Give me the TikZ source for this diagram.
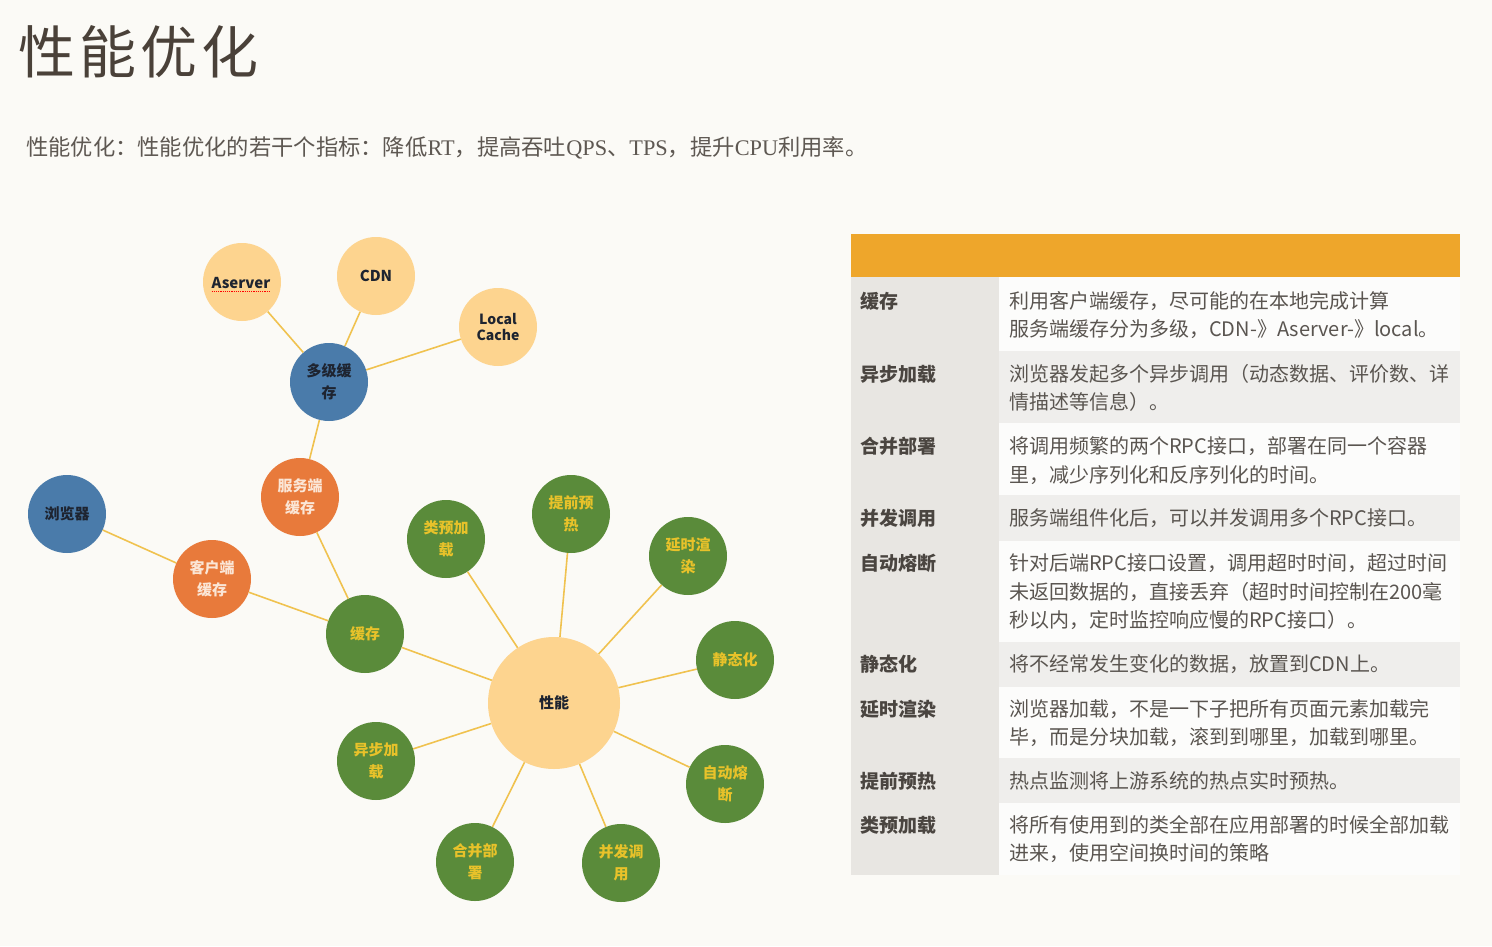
\documentclass[tikz,border=0pt]{standalone}
\usepackage{fontspec}
\setmainfont{Noto Sans CJK SC}
\newfontfamily\serifl{Liberation Serif}
\definecolor{bgc}{HTML}{FBFAF6}
\definecolor{titlec}{HTML}{4A4139}
\definecolor{subc}{HTML}{5E5852}
\definecolor{palec}{HTML}{FDD48F}
\definecolor{bluec}{HTML}{4A7BAA}
\definecolor{orgc}{HTML}{E87A3B}
\definecolor{grnc}{HTML}{5A8B3A}
\definecolor{grnt}{HTML}{E8C22A}
\definecolor{orgt}{HTML}{FBE6D6}
\definecolor{darkt}{HTML}{1E2430}
\definecolor{edgec}{HTML}{F0C24F}
\definecolor{hdrc}{HTML}{EEA62B}
\definecolor{leftc}{HTML}{E8E6E2}
\definecolor{rowa}{HTML}{FCFCFB}
\definecolor{rowb}{HTML}{EFEEEC}
\definecolor{labc}{HTML}{4A4540}
\definecolor{descc}{HTML}{5A5550}
\tikzset{
 edge/.style={draw=edgec, line width=1.6pt},
 bub/.style={circle, minimum size=78pt, inner sep=0pt, align=center, font=\fontsize{15}{22}\selectfont\bfseries},
 pale/.style={bub, fill=palec, text=darkt},
 blu/.style={bub, fill=bluec, text=darkt},
 org/.style={bub, fill=orgc, text=orgt},
 grn/.style={bub, fill=grnc, text=grnt},
 lab/.style={anchor=base west, inner sep=0pt, font=\fontsize{19}{19}\selectfont\bfseries, text=labc},
 desc/.style={anchor=base west, inner sep=0pt, font=\fontsize{20}{20}\selectfont, text=descc},
}
\begin{document}
\begin{tikzpicture}[x=1pt,y=-1pt]
\fill[bgc] (0,0) rectangle (1492,946);
\useasboundingbox (0,0) rectangle (1492,946);
% title
\node[anchor=west, inner sep=0pt, text=titlec, font=\fontsize{57}{60}\selectfont] (title) at (18,52) {性\hspace{4pt}能\hspace{4pt}优\hspace{4pt}化};
\node[anchor=west, inner sep=0pt, text=subc, font=\fontsize{22.3}{24}\selectfont] (sub) at (26,148) {性能优化：性能优化的若干个指标：降低{\serifl RT}，提高吞吐{\serifl QPS}、{\serifl TPS}，提升{\serifl CPU}利用率。};
% mind map nodes
\node[pale] (as) at (242,282) {};
\node[inner sep=0pt, text=darkt, font=\fontsize{15}{22}\selectfont\bfseries] (aslbl) at (241,283) {Aserver};
\draw[red, densely dotted, line width=1.2pt] ([yshift=-3pt]aslbl.base west) -- ([yshift=-3pt]aslbl.base east);
\node[pale] (cdn) at (376,276) {CDN};
\node[pale, font=\fontsize{14}{16}\selectfont\bfseries] (lc) at (498,327) {Local\\Cache};
\node[blu] (dj) at (329,382) {多级缓\\存};
\node[org] (fw) at (300,497) {服务端\\缓存};
\node[blu] (llq) at (67,514) {浏览器};
\node[org] (kh) at (212,579) {客户端\\缓存};
\node[grn] (hc) at (365,634) {缓存};
\node[grn] (lyj) at (446,539) {类预加\\载};
\node[grn] (tq) at (571,514) {提前预\\热};
\node[grn] (ys) at (688,556) {延时渲\\染};
\node[grn] (jt) at (735,660) {静态化};
\node[grn] (zd) at (725,784) {自动熔\\断};
\node[grn] (bf) at (621,863) {并发调\\用};
\node[grn] (hb) at (475,862) {合并部\\署};
\node[grn] (yb) at (376,761) {异步加\\载};
\node[circle, minimum size=132pt, inner sep=0pt, fill=palec, text=darkt, font=\fontsize{15}{22}\selectfont\bfseries] (xn) at (554,703) {性能};
% connectors
\draw[edge] (as) -- (dj);
\draw[edge] (cdn) -- (dj);
\draw[edge] (lc) -- (dj);
\draw[edge] (dj) -- (fw);
\draw[edge] (fw) -- (hc);
\draw[edge] (llq) -- (kh);
\draw[edge] (kh) -- (hc);
\draw[edge] (hc) -- (xn);
\draw[edge] (lyj) -- (xn);
\draw[edge] (tq) -- (xn);
\draw[edge] (ys) -- (xn);
\draw[edge] (jt) -- (xn);
\draw[edge] (zd) -- (xn);
\draw[edge] (bf) -- (xn);
\draw[edge] (hb) -- (xn);
\draw[edge] (yb) -- (xn);
% table
\fill[hdrc] (851,234) rectangle (1460,277);
\fill[leftc] (851,277) rectangle (999,875);
\fill[rowa] (999,277) rectangle (1460,351);
\fill[rowb] (999,351) rectangle (1460,423);
\fill[rowa] (999,423) rectangle (1460,495);
\fill[rowb] (999,495) rectangle (1460,541);
\fill[rowa] (999,541) rectangle (1460,642);
\fill[rowb] (999,642) rectangle (1460,687);
\fill[rowa] (999,687) rectangle (1460,758);
\fill[rowb] (999,758) rectangle (1460,803);
\fill[rowa] (999,803) rectangle (1460,875);
% labels
\node[lab] (l1) at (860,308) {缓存};
\node[lab] (l2) at (860,381) {异步加载};
\node[lab] (l3) at (860,453) {合并部署};
\node[lab] (l4) at (860,525) {并发调用};
\node[lab] (l5) at (860,570) {自动熔断};
\node[lab] (l6) at (860,671) {静态化};
\node[lab] (l7) at (860,716) {延时渲染};
\node[lab] (l8) at (860,788) {提前预热};
\node[lab] (l9) at (860,832) {类预加载};
% descriptions
\node[desc] (d1a) at (1009,308) {利用客户端缓存，尽可能的在本地完成计算};
\node[desc] (d1b) at (1009,336) {服务端缓存分为多级，CDN-》Aserver-》local。};
\node[desc] (d2a) at (1009,381) {浏览器发起多个异步调用（动态数据、评价数、详};
\node[desc] (d2b) at (1009,409) {情描述等信息）。};
\node[desc] (d3a) at (1009,453) {将调用频繁的两个RPC接口，部署在同一个容器};
\node[desc] (d3b) at (1009,482) {里，减少序列化和反序列化的时间。};
\node[desc] (d4a) at (1009,525) {服务端组件化后，可以并发调用多个RPC接口。};
\node[desc] (d5a) at (1009,570) {针对后端RPC接口设置，调用超时时间，超过时间};
\node[desc] (d5b) at (1009,599) {未返回数据的，直接丢弃（超时时间控制在200毫};
\node[desc] (d5c) at (1009,627) {秒以内，定时监控响应慢的RPC接口）。};
\node[desc] (d6a) at (1009,671) {将不经常发生变化的数据，放置到CDN上。};
\node[desc] (d7a) at (1009,716) {浏览器加载，不是一下子把所有页面元素加载完};
\node[desc] (d7b) at (1009,744) {毕，而是分块加载，滚到到哪里，加载到哪里。};
\node[desc] (d8a) at (1009,788) {热点监测将上游系统的热点实时预热。};
\node[desc] (d9a) at (1009,832) {将所有使用到的类全部在应用部署的时候全部加载};
\node[desc] (d9b) at (1009,860) {进来，使用空间换时间的策略};
\end{tikzpicture}
\end{document}
